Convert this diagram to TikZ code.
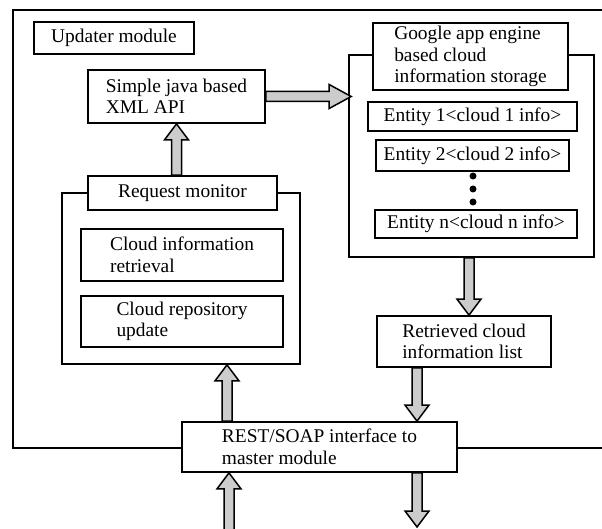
\documentclass[tikz,border=0pt]{standalone}
\usepackage{fontspec}
\setmainfont{Liberation Serif}
\usetikzlibrary{calc}

\begin{document}
\begin{tikzpicture}[x=1pt, y=-1pt, line width=1.7pt,
    box/.style={draw, fill=white, inner sep=0pt, align=left,
      font=\fontsize{19.4}{21.5}\selectfont},
    fat/.style={draw, fill=gray!40, line width=1.5pt,
      to path={-- ($(\tikztostart)!5pt!90:(\tikztotarget)$)
        -- ($($(\tikztotarget)!#1!(\tikztostart)$)!5pt!-90:(\tikztostart)$)
        -- ($($(\tikztotarget)!#1!(\tikztostart)$)!12pt!-90:(\tikztostart)$)
        -- (\tikztotarget)
        -- ($($(\tikztotarget)!#1!(\tikztostart)$)!12pt!90:(\tikztostart)$)
        -- ($($(\tikztotarget)!#1!(\tikztostart)$)!5pt!90:(\tikztostart)$)
        -- ($(\tikztostart)!5pt!-90:(\tikztotarget)$)
        -- cycle}},
    fat/.default=16pt]
  \useasboundingbox (0,0) rectangle (602,529);
  \clip (0,0) rectangle (602,529);

  % updater module frame
  \draw (13,10) rectangle (640,448);
  \node[box, minimum width=160pt, minimum height=32pt] (updater) at (114,38) {Updater module};
  \node[box, minimum width=177pt, minimum height=53pt] (java) at (176.5,96.5) {Simple java based\\XML API};

  % request monitor
  \node[box, minimum width=238pt, minimum height=171pt] (monbox) at (181,278.5) {};
  \node[box, minimum width=189pt, minimum height=34pt] (monitor) at (182.5,193) {Request monitor};
  \node[box, minimum width=202pt, minimum height=52pt] (retrieval) at (182,255) {Cloud information\\retrieval};
  \node[box, minimum width=202pt, minimum height=51pt] (repo) at (182,321.5) {Cloud repository\\update};

  % cloud information storage
  \node[box, minimum width=245pt, minimum height=202pt] (store) at (471.5,156) {};
  \node[box, minimum width=195pt, minimum height=67pt] (storetitle) at (470.5,56.5) {Google app engine\\based cloud\\information storage};
  \node[box, minimum width=209pt, minimum height=29pt] (ent1) at (472.5,116.5) {Entity 1<cloud 1 info>};
  \node[box, minimum width=193pt, minimum height=31pt] (ent2) at (472.5,155.5) {Entity 2<cloud 2 info>};
  \node[box, minimum width=202pt, minimum height=28pt] (entn) at (476,224) {Entity n<cloud n info>};
  \foreach \y in {176,189,202}
    \fill (473,\y) circle (3.5);

  \node[box, minimum width=174pt, minimum height=51pt] (retr) at (464,341.5) {Retrieved cloud\\information list};
  \node[box, minimum width=275pt, minimum height=50pt] (rest) at (319.5,447) {REST/SOAP interface to\\master module};

  \coordinate (inlet) at (229,535);
  \coordinate (outlet) at (417,527);

  % data flow
  \draw[fat=22pt] (java.east) to ([xshift=3pt]java.east -| store.west);
  \draw[fat] (java.south |- monitor.north) to (java.south);
  \draw[fat] (store.south -| 469,0) to (retr.north -| 469,0);
  \draw[fat] ([xshift=-47pt]retr.south) to ([xshift=-47pt]retr.south |- rest.north);
  \draw[fat] (rest.north -| 227,0) to (monbox.south -| 227,0);
  \draw[fat] (inlet) to (inlet |- rest.south);
  \draw[fat] (rest.south -| outlet) to (outlet);
\end{tikzpicture}
\end{document}
